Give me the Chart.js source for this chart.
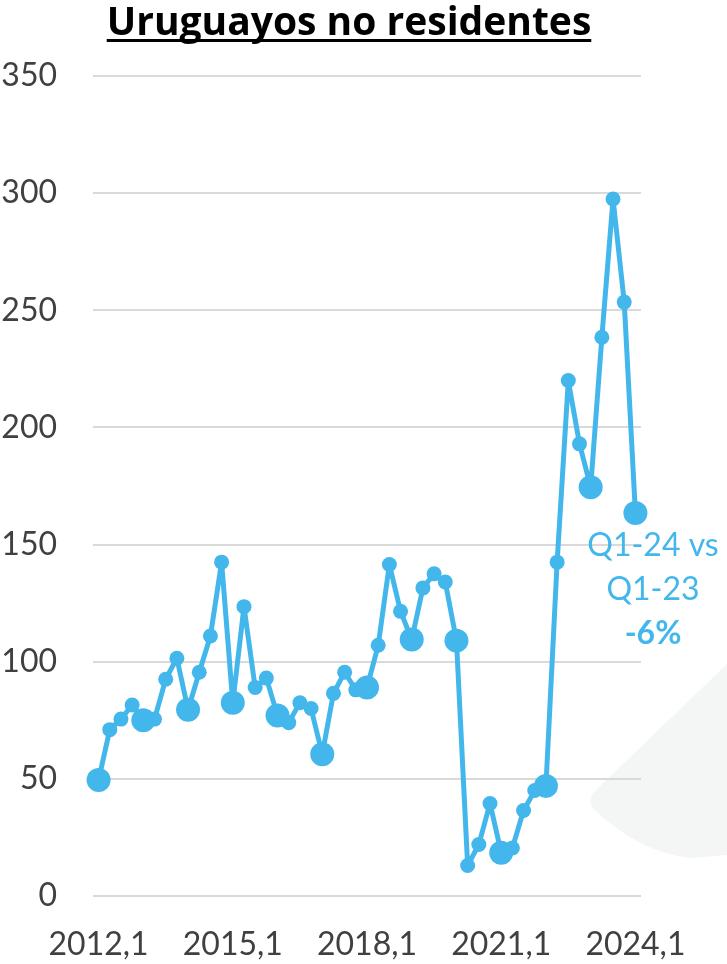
<!DOCTYPE html>
<html>
<head>
<meta charset="utf-8">
<style>
  html, body { margin: 0; padding: 0; background: #ffffff; }
  canvas { display: block; }
</style>
<script src="https://cdn.jsdelivr.net/npm/chart.js@4.4.1/dist/chart.umd.min.js"></script>
</head>
<body>
<canvas id="noResidentes" width="727" height="964"></canvas>
<script>
const categories = [
  '2012,1', '2012,2', '2012,3', '2012,4',
  '2013,1', '2013,2', '2013,3', '2013,4',
  '2014,1', '2014,2', '2014,3', '2014,4',
  '2015,1', '2015,2', '2015,3', '2015,4',
  '2016,1', '2016,2', '2016,3', '2016,4',
  '2017,1', '2017,2', '2017,3', '2017,4',
  '2018,1', '2018,2', '2018,3', '2018,4',
  '2019,1', '2019,2', '2019,3', '2019,4',
  '2020,1', '2020,2', '2020,3', '2020,4',
  '2021,1', '2021,2', '2021,3', '2021,4',
  '2022,1', '2022,2', '2022,3', '2022,4',
  '2023,1', '2023,2', '2023,3', '2023,4',
  '2024,1'
];

const noResidentes = [
  49.5, 71, 75.5, 81.5,
  75, 75.5, 92.5, 101.5,
  79.5, 95.5, 111, 142.5,
  82.5, 123.5, 89, 93,
  77, 74, 82.5, 80,
  60.5, 86.5, 95.5, 88,
  89, 107, 141.5, 121.5,
  109.5, 131.5, 137.5, 134,
  109, 13, 22, 39.5,
  18.5, 20.5, 36.5, 45,
  47, 142.5, 220, 193,
  174.5, 238.5, 297.5, 253.5,
  163.5
];

const xTickLabels = ['2012,1', '2015,1', '2018,1', '2021,1', '2024,1'];
const yTicks = [0, 50, 100, 150, 200, 250, 300, 350];

const titleText = 'Uruguayos no residentes';
const noteLines = ['Q1-24 vs', 'Q1-23', '-6%'];

const blue = '#43B7EC';
const isQ1 = i => categories[i].endsWith(',1');

// white background + faint watermark shape at bottom right
const backdrop = {
  id: 'backdrop',
  beforeDraw(chart) {
    const c = chart.ctx;
    c.save();
    c.fillStyle = '#ffffff';
    c.fillRect(0, 0, chart.width, chart.height);
    c.fillStyle = '#f3f6f5';
    c.beginPath();
    c.moveTo(727, 664);
    c.lineTo(596, 790);
    c.quadraticCurveTo(584, 802, 597, 812);
    c.quadraticCurveTo(640, 852, 690, 858);
    c.lineTo(727, 855);
    c.closePath();
    c.fill();
    c.restore();
  }
};

// underlined title and the Q1 comparison note
const texts = {
  id: 'texts',
  afterDraw(chart) {
    const c = chart.ctx;
    c.save();
    c.fillStyle = '#000000';
    c.font = 'bold 39px "Open Sans"';
    c.textAlign = 'center';
    c.textBaseline = 'alphabetic';
    c.fillText(titleText, 349, 35);
    const w = c.measureText(titleText).width;
    c.fillRect(349 - w / 2, 39, w, 3);

    c.fillStyle = blue;
    c.textBaseline = 'middle';
    c.font = '32px Lato';
    c.fillText(noteLines[0], 653, 546);
    c.fillText(noteLines[1], 653, 590);
    c.font = 'bold 32px Lato';
    c.fillText(noteLines[2], 653, 634);
    c.restore();
  }
};

const ctx = document.getElementById('noResidentes').getContext('2d');

new Chart(ctx, {
  type: 'line',
  data: {
    labels: categories,
    datasets: [{
      label: 'Uruguayos no residentes',
      data: noResidentes,
      borderColor: blue,
      backgroundColor: blue,
      borderWidth: 5,
      borderJoinStyle: 'round',
      tension: 0,
      pointRadius: c => isQ1(c.dataIndex) ? 12 : 7.5,
      pointHoverRadius: c => isQ1(c.dataIndex) ? 12 : 7.5,
      pointBorderWidth: 0
    }]
  },
  options: {
    responsive: false,
    animation: false,
    layout: { padding: { top: 76, right: 86, left: 0, bottom: 0 } },
    plugins: {
      legend: { display: false },
      title: { display: false },
      tooltip: { enabled: false }
    },
    scales: {
      x: {
        type: 'category',
        offset: true,
        grid: { display: false },
        border: { display: false },
        ticks: {
          autoSkip: false,
          maxRotation: 0,
          minRotation: 0,
          color: '#404040',
          font: { family: 'Lato', size: 32 },
          padding: 21,
          callback: (v, i) => xTickLabels.includes(categories[i]) ? categories[i] : ''
        },
        afterFit: s => { s.height = 68; }
      },
      y: {
        min: 0,
        max: 350,
        afterBuildTicks: s => { s.ticks = yTicks.map(v => ({ value: v })); },
        grid: { color: '#d9d9d9', lineWidth: 2, drawTicks: false },
        border: { display: false },
        ticks: {
          color: '#404040',
          font: { family: 'Lato', size: 32 },
          padding: 36
        },
        afterFit: s => { s.width = 93; }
      }
    }
  },
  plugins: [backdrop, texts]
});
</script>
</body>
</html>
